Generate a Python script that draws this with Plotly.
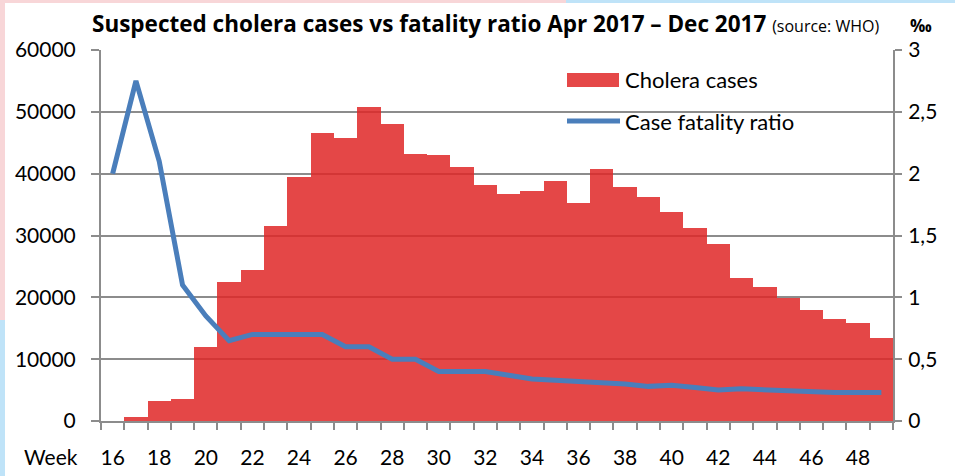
import plotly.graph_objects as go

weeks = list(range(16, 50))
cases = [0, 700, 3300, 3500, 11900, 22400, 24400, 31500, 39500, 46600, 45800, 50800,
         48000, 43200, 43000, 41100, 38200, 36700, 37200, 38800, 35200, 40800, 37900,
         36300, 33800, 31200, 28600, 23100, 21700, 19900, 17900, 16500, 15900, 13400]
cfr = [2.0, 2.75, 2.1, 1.1, 0.85, 0.65, 0.70, 0.70, 0.70, 0.70, 0.60, 0.60, 0.50, 0.50,
       0.40, 0.40, 0.40, 0.37, 0.34, 0.33, 0.32, 0.32, 0.30, 0.28, 0.29, 0.27, 0.25,
       0.26, 0.25, 0.25, 0.23, 0.23, 0.23, 0.23]
label_weeks = list(range(16, 49, 2))
left_ticks = [0, 10000, 20000, 30000, 40000, 50000, 60000]
right_ticks = [0, 0.5, 1, 1.5, 2, 2.5, 3]
right_labels = ["0", "0,5", "1", "1,5", "2", "2,5", "3"]
series_names = ["Cholera cases", "Case fatality ratio"]

FONT = "Lato"
GRID = "#8c8c8c"
BAR = "rgb(224,40,40)"
LINE = "#4a7ebb"

fig = go.Figure()
fig.add_trace(go.Bar(x=weeks, y=cases, name=series_names[0],
                     marker=dict(color=BAR, line=dict(width=0)),
                     opacity=0.85, showlegend=False))
fig.add_trace(go.Scatter(x=weeks, y=cfr, name=series_names[1], yaxis="y2",
                         mode="lines", line=dict(color=LINE, width=5),
                         showlegend=False))

boundaries = [w - 0.5 for w in weeks] + [weeks[-1] + 0.5]

fig.update_layout(
    width=955, height=476,
    margin=dict(l=101, r=62, t=50, b=55),
    paper_bgcolor="white", plot_bgcolor="white",
    bargap=0,
    font=dict(family=FONT, size=21, color="black"),
    xaxis=dict(range=[weeks[0] - 0.5, weeks[-1] + 0.5], tickvals=label_weeks,
               ticks="", ticklen=0, ticklabelstandoff=17, showgrid=False,
               showline=True, linecolor=GRID, linewidth=2, zeroline=False,
               automargin=False,
               minor=dict(tickvals=boundaries, ticks="outside", ticklen=7,
                          tickcolor=GRID, tickwidth=2, showgrid=False)),
    yaxis=dict(range=[0, 60000], tickvals=left_ticks, tickformat="d",
               showgrid=True, gridcolor=GRID, gridwidth=2,
               showline=True, linecolor=GRID, linewidth=2,
               ticks="outside", ticklen=8, tickcolor=GRID, tickwidth=2,
               ticklabelstandoff=11, zeroline=False, automargin=False),
    yaxis2=dict(range=[0, 3], overlaying="y", side="right", tickvals=right_ticks,
                ticktext=right_labels, showgrid=False,
                showline=True, linecolor=GRID, linewidth=2,
                ticks="outside", ticklen=7, tickcolor=GRID, tickwidth=2,
                ticklabelstandoff=2, zeroline=False, automargin=False),
)

def px2x(p):
    return (p - 101) / 792

def px2y(q):
    return (421 - q) / 371

pink = "#f8d6d8"
blue = "#bfe3f8"
for x0, x1, y0, y1, c in [(0, 5, 0, 320, pink), (0, 5, 320, 476, blue),
                          (0, 566, 0, 3, pink), (566, 955, 0, 3, blue)]:
    fig.add_shape(type="rect", xref="paper", yref="paper", x0=px2x(x0), x1=px2x(x1),
                  y0=px2y(y0), y1=px2y(y1), fillcolor=c, line_width=0, layer="below")

# legend drawn by hand
fig.add_shape(type="rect", xref="paper", yref="paper", x0=px2x(567), x1=px2x(619),
              y0=px2y(87), y1=px2y(73), fillcolor=BAR, opacity=0.85, line_width=0)
fig.add_shape(type="line", xref="paper", yref="paper", x0=px2x(567), x1=px2x(620),
              y0=px2y(121), y1=px2y(121), line=dict(color=LINE, width=5))
for name, yy in zip(series_names, [80, 121]):
    fig.add_annotation(xref="paper", yref="paper", x=px2x(623), y=px2y(yy),
                       xanchor="left", yanchor="middle", showarrow=False,
                       text=name, font=dict(family=FONT, size=22, color="black"))

fig.add_annotation(xref="paper", yref="paper", x=px2x(90), y=px2y(41),
                   xanchor="left", yanchor="bottom", showarrow=False,
                   text="<b>Suspected cholera cases vs fatality ratio Apr 2017 – Dec 2017</b>"
                        " <span style='font-size:16px'>(source: WHO)</span>",
                   font=dict(family="Open Sans", size=22.5, color="black"))
fig.add_annotation(xref="paper", yref="paper", x=px2x(921), y=px2y(38),
                   xanchor="center", yanchor="bottom", showarrow=False, borderpad=0,
                   text="<b>‰</b>", font=dict(family="Open Sans", size=17, color="black"))
fig.add_annotation(xref="paper", yref="paper", x=px2x(80), y=px2y(457),
                   xanchor="right", yanchor="middle", showarrow=False,
                   text="Week", font=dict(family=FONT, size=21, color="black"))

fig.write_html("out.html", config={"displayModeBar": False},
               post_script="document.body.style.margin='0';document.body.style.padding='0';")
